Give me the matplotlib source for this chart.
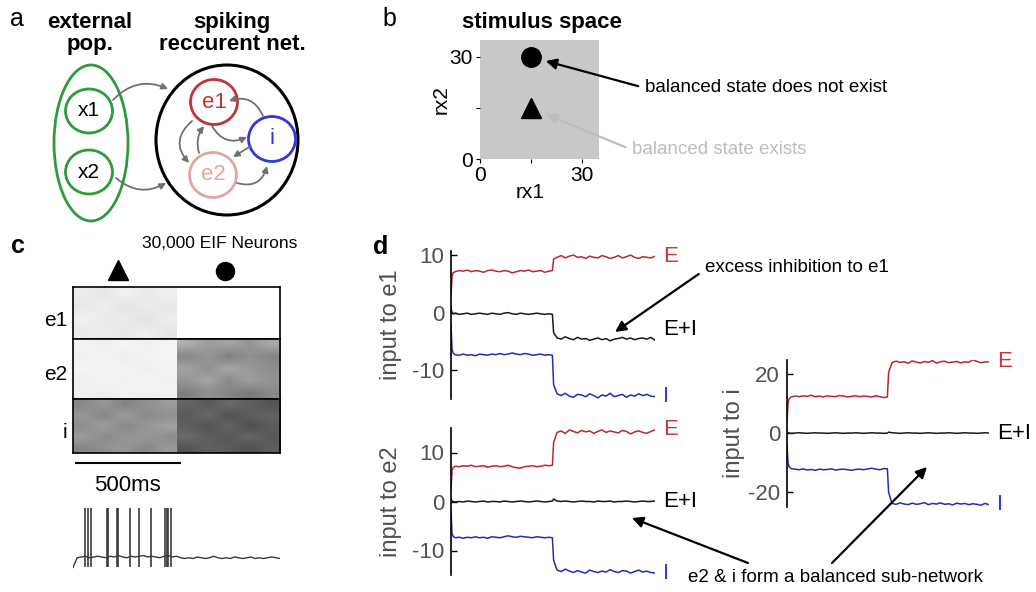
import numpy as np
import matplotlib
matplotlib.use('Agg')
import matplotlib.pyplot as plt
from matplotlib.patches import Ellipse, FancyArrowPatch
import matplotlib.transforms as mtransforms

plt.rcParams['font.family'] = 'Liberation Sans'
plt.rcParams['axes.unicode_minus'] = False

W, H = 1036, 592

# ---- data -------------------------------------------------------------
# time points (ms) of the synaptic input traces, stimulus switches at 500 ms
t_in = [0, 5, 10] + list(range(20, 481, 20)) + [497, 503] + list(range(520, 1001, 20))

e1_E = [3.0, 6.2, 6.9,
        7.1, 7.3, 7.2, 7.4, 7.1, 7.3, 7.2, 7.0, 7.3, 7.4, 7.2, 7.1,
        7.3, 7.2, 6.9, 7.1, 7.3, 7.2, 7.4, 7.1, 7.2, 7.3, 7.0, 7.2,
        7.3, 9.3,
        9.6, 9.9, 9.5, 9.8, 10.0, 9.6, 9.7, 9.4, 9.8, 9.6, 9.5, 9.9, 9.7,
        9.4, 9.6, 9.9, 9.5, 9.7, 10.0, 9.6, 9.4, 9.7, 9.6, 9.5, 9.8]
e1_EI = [0.8, 0.0, -0.2,
         -0.1, -0.3, -0.2, -0.1, -0.3, -0.2, -0.1, -0.2, -0.3, -0.1, -0.2, -0.3,
         -0.1, 0.0, -0.2, -0.3, -0.1, -0.2, -0.3, -0.2, -0.1, -0.2, -0.3, -0.2,
         -0.3, -3.5,
         -4.4, -4.6, -4.2, -4.5, -4.7, -4.3, -4.6, -4.5, -4.8, -4.6, -4.4, -4.7, -4.5,
         -4.9, -4.6, -4.5, -4.3, -4.6, -4.4, -4.7, -4.5, -4.4, -4.6, -4.3, -4.8]
e1_I = [-2.0, -6.3, -7.0,
        -7.3, -7.4, -7.2, -7.4, -7.3, -7.5, -7.2, -7.3, -7.4, -7.2, -7.3, -7.1,
        -7.3, -7.2, -7.0, -7.2, -7.3, -7.1, -7.2, -7.4, -7.3, -7.2, -7.4, -7.3,
        -7.4, -12.5,
        -14.1, -14.4, -14.0, -14.5, -14.7, -14.2, -14.3, -14.6, -14.1, -14.4, -14.8, -14.3, -14.5,
        -14.0, -14.6, -14.4, -14.2, -14.7, -14.3, -14.5, -14.1, -14.4, -14.2, -14.5, -14.6]

e2_E = [2.5, 6.3, 6.9,
        7.2, 7.1, 7.3, 7.2, 7.4, 7.1, 7.2, 7.3, 7.0, 7.2, 7.3, 7.1,
        7.2, 7.4, 7.1, 6.9, 6.8, 7.1, 7.2, 7.3, 7.1, 7.2, 7.4, 7.3,
        7.4, 12.0,
        14.1, 14.4, 13.9, 14.6, 14.3, 14.0, 14.5, 14.2, 14.4, 13.9, 14.3, 14.6, 14.1,
        14.4, 14.2, 14.0, 14.5, 14.3, 13.8, 14.2, 14.4, 14.1, 13.9, 14.3, 14.6]
e2_EI = [0.6, 0.1, 0.0,
         -0.1, 0.0, -0.1, 0.1, 0.0, -0.1, 0.0, 0.1, -0.1, 0.0, 0.0, -0.1,
         0.1, 0.0, -0.1, 0.0, 0.1, 0.0, -0.1, 0.0, 0.1, 0.0, -0.1, 0.0,
         0.1, 0.5,
         0.1, 0.0, 0.1, 0.0, -0.1, 0.0, 0.1, 0.0, 0.0, -0.1, 0.1, 0.0, 0.0,
         0.1, -0.1, 0.0, 0.0, 0.1, 0.0, -0.1, 0.0, 0.1, 0.0, 0.0, 0.1]
e2_I = [-2.0, -6.5, -7.1,
        -7.4, -7.3, -7.5, -7.3, -7.4, -7.2, -7.4, -7.3, -7.5, -7.2, -7.3, -7.4,
        -7.2, -7.0, -7.2, -7.3, -7.1, -7.2, -7.3, -7.4, -7.2, -7.3, -7.4, -7.3,
        -7.4, -12.0,
        -14.0, -14.3, -13.8, -14.2, -14.5, -14.1, -14.4, -14.6, -14.0, -14.3, -14.5, -14.2, -14.4,
        -13.9, -14.3, -14.5, -14.1, -14.2, -14.6, -14.3, -14.0, -14.4, -14.2, -14.5, -14.6]

i_E = [4.0, 10.0, 11.5,
       12.2, 12.5, 12.3, 12.6, 12.4, 12.8, 12.3, 12.5, 12.2, 12.6, 12.4, 12.3,
       12.7, 12.5, 12.2, 12.4, 12.6, 12.3, 12.5, 12.4, 12.2, 12.6, 12.3, 12.0,
       12.2, 20.5,
       23.8, 24.3, 23.9, 24.1, 23.6, 24.4, 24.0, 23.7, 24.2, 23.9, 24.5, 23.6, 24.1,
       24.3, 23.8, 24.0, 24.2, 23.7, 24.1, 23.9, 24.8, 24.2, 23.8, 24.0, 24.1]
i_EI = [0.4, 0.1, 0.0,
        -0.1, 0.0, 0.1, 0.0, -0.1, 0.0, 0.1, 0.0, 0.0, -0.1, 0.0, 0.1,
        0.0, -0.1, 0.0, 0.0, 0.1, 0.0, -0.1, 0.0, 0.1, 0.0, 0.0, -0.1,
        0.0, 0.3,
        0.1, 0.0, -0.1, 0.0, 0.1, 0.0, 0.0, -0.1, 0.0, 0.1, 0.0, -0.1, 0.0,
        0.0, 0.1, 0.0, -0.1, 0.0, 0.1, 0.0, 0.0, -0.1, 0.0, 0.1, 0.0]
i_I = [-4.0, -10.0, -11.3,
       -12.0, -12.2, -12.4, -12.1, -12.5, -12.3, -12.6, -12.2, -12.4, -12.3, -12.1, -12.5,
       -12.3, -12.2, -12.4, -12.6, -12.3, -12.2, -12.4, -12.1, -11.9, -12.2, -12.4, -12.0,
       -12.1, -20.0,
       -23.8, -24.1, -23.6, -24.0, -24.2, -23.7, -24.1, -23.9, -23.5, -24.2, -23.8, -24.0, -23.6,
       -24.1, -23.9, -24.3, -23.7, -24.0, -23.8, -24.2, -23.9, -24.1, -24.4, -23.8, -24.2]

# spike density of the raster (rows of neurons x 100 ms bins)
e1_rate = [[0.14, 0.18, 0.12, 0.16, 0.13, 0, 0, 0, 0, 0],
           [0.17, 0.13, 0.19, 0.15, 0.17, 0, 0, 0, 0, 0],
           [0.12, 0.16, 0.15, 0.20, 0.14, 0, 0, 0, 0, 0],
           [0.16, 0.14, 0.17, 0.13, 0.18, 0, 0, 0, 0, 0]]
e2_rate = [[0.10, 0.13, 0.09, 0.12, 0.10, 0.42, 0.48, 0.45, 0.50, 0.44],
           [0.12, 0.09, 0.14, 0.11, 0.08, 0.55, 0.50, 0.58, 0.52, 0.56],
           [0.09, 0.12, 0.10, 0.13, 0.11, 0.46, 0.52, 0.44, 0.49, 0.53],
           [0.13, 0.10, 0.12, 0.09, 0.12, 0.50, 0.45, 0.54, 0.47, 0.51],
           [0.11, 0.14, 0.10, 0.12, 0.10, 0.58, 0.52, 0.56, 0.60, 0.55]]
i_rate = [[0.55, 0.50, 0.57, 0.52, 0.48, 0.68, 0.72, 0.66, 0.70, 0.74],
          [0.50, 0.56, 0.48, 0.54, 0.52, 0.72, 0.66, 0.75, 0.70, 0.68],
          [0.53, 0.47, 0.55, 0.50, 0.46, 0.70, 0.74, 0.68, 0.76, 0.71],
          [0.48, 0.54, 0.51, 0.49, 0.53, 0.66, 0.70, 0.73, 0.67, 0.72],
          [0.56, 0.52, 0.50, 0.55, 0.49, 0.74, 0.69, 0.71, 0.75, 0.70]]

# membrane potential of one e1 neuron (mV), sampled every 20 ms
v_t = list(range(0, 1001, 20))
v_mem = [-70, -57, -56, -55, -57, -56, -55, -56, -57, -55, -56, -54, -56, -57, -55, -56,
         -55, -54, -56, -55, -56, -57, -55, -54, -56, -55,
         -57, -58, -57, -58, -56, -57, -58, -57, -55, -57, -58, -57, -58, -56, -57,
         -58, -57, -56, -58, -57, -58, -57, -56, -57, -58]
spike_t = [58, 74, 85, 162, 170, 211, 219, 275, 320, 375, 444, 452, 460, 472]
spike_reset = -69
spike_peak = 10
scale_bar_ms = 500

# stimulus space
rx1 = [15, 15]
rx2 = [15, 30]

red = '#b8282e'
red_lab = '#c8383e'
blue = '#2a2ab4'
blue_lab = '#3a3ad0'
txt_grey = '#505050'


def px_rect(x0, y0, x1, y1):
    return [x0 / W, 1 - y1 / H, (x1 - x0) / W, (y1 - y0) / H]


fig = plt.figure(figsize=(W / 100, H / 100), dpi=100)

# ---- b: stimulus space -----------------------------------------------
axb = fig.add_axes(px_rect(480, 40, 599, 159))
axb.set_facecolor('#c8c8c8')
axb.plot(rx1[0], rx2[0], '^', color='k', ms=15)
axb.plot(rx1[1], rx2[1], 'o', color='k', ms=14)
axb.set_xlim(0, 35)
axb.set_ylim(0, 35)
for s in axb.spines.values():
    s.set_visible(False)
axb.set_xticks([0, 15, 30])
axb.set_xticklabels(['0', '', '30'])
axb.set_yticks([0, 15, 30])
axb.set_yticklabels(['0', '', '30'])
axb.tick_params(length=3, width=0.8, labelsize=15, pad=2)
axb.set_xlabel('rx1', fontsize=15)
axb.xaxis.set_label_coords(0.42, -0.2)
axb.set_ylabel('rx2', fontsize=15)
axb.yaxis.set_label_coords(-0.25, 0.5)
axb.annotate('balanced state does not exist', xy=(rx1[1], rx2[1]), xycoords='data',
             xytext=(645, H - 88), textcoords='figure pixels', fontsize=13.5,
             ha='left', va='center', annotation_clip=False,
             arrowprops=dict(arrowstyle='-|>', color='k', lw=1.6, mutation_scale=16,
                             relpos=(0, 0.5), shrinkA=3, shrinkB=11))
axb.annotate('balanced state exists', xy=(rx1[0], rx2[0]), xycoords='data',
             xytext=(632, H - 150), textcoords='figure pixels', fontsize=13.5,
             color='#bdbdbd', ha='left', va='center', annotation_clip=False,
             arrowprops=dict(arrowstyle='-|>', color='#bdbdbd', lw=1.6, mutation_scale=16,
                             relpos=(0, 0.5), shrinkA=3, shrinkB=12))

# ---- c: raster + voltage ----------------------------------------------
raster_rows = [(e1_rate, 287, 339), (e2_rate, 339, 399), (i_rate, 399, 453)]
raster_axes = []
for rate, y0, y1 in raster_rows:
    ax = fig.add_axes(px_rect(73, y0, 280, y1))
    arr = np.array(rate)
    n = arr.shape[0]
    # each stimulus epoch smoothed on its own so the switch stays sharp
    ax.imshow(arr[:, :5], cmap='Greys', vmin=0, vmax=1, aspect='auto',
              interpolation='bilinear', extent=(0, 500, 0, n))
    ax.imshow(arr[:, 5:], cmap='Greys', vmin=0, vmax=1, aspect='auto',
              interpolation='bilinear', extent=(500, 1000, 0, n))
    ax.set_xlim(0, 1000)
    ax.set_ylim(0, n)
    ax.set_xticks([])
    ax.set_yticks([])
    for s in ax.spines.values():
        s.set_linewidth(1.2)
    raster_axes.append(ax)

ax_i = raster_axes[-1]
bar_tr = mtransforms.blended_transform_factory(ax_i.transData, ax_i.transAxes)
ax_i.plot([15, 15 + scale_bar_ms], [-0.19, -0.19], color='k', lw=1.5,
          transform=bar_tr, clip_on=False)
ax_i.text(15 + scale_bar_ms / 2, -0.6, '%dms' % scale_bar_ms, transform=bar_tr,
          ha='center', va='center', fontsize=16)

axv = fig.add_axes(px_rect(73, 500, 280, 575))
axv.plot(v_t, v_mem, color='#3a3a3a', lw=1.0)
axv.vlines(spike_t, spike_reset, spike_peak, color='#3a3a3a', lw=1.2)
axv.set_xlim(0, 1000)
axv.set_ylim(-80, 20)
axv.axis('off')


# ---- d: synaptic inputs -----------------------------------------------
def current_panel(rect, e, ei, i, ylim, ticks, ylabel, label_x, ei_label_y):
    ax = fig.add_axes(px_rect(*rect))
    ax.set_facecolor('none')
    ax.plot(t_in, e, color=red, lw=1.1)
    ax.plot(t_in, ei, color='#1a1a1a', lw=1.1)
    ax.plot(t_in, i, color=blue, lw=1.1)
    ax.set_xlim(0, 1000)
    ax.set_ylim(*ylim)
    for s in ['top', 'right', 'bottom']:
        ax.spines[s].set_visible(False)
    ax.spines['left'].set_linewidth(1.2)
    ax.set_xticks([])
    ax.set_yticks(ticks)
    ax.tick_params(axis='y', direction='in', length=4, width=1, labelsize=16,
                   labelcolor=txt_grey, pad=5)
    ax.set_ylabel(ylabel, fontsize=17, color=txt_grey)
    ax.yaxis.set_label_coords(label_x, 0.5)
    for yv, lab, col in [(e[-1], 'E', red_lab), (ei_label_y, 'E+I', 'k'), (i[-1], 'I', blue_lab)]:
        ax.text(1040, yv, lab, color=col, fontsize=16, ha='left', va='center', clip_on=False)
    return ax


current_panel((451, 251, 655, 399), e1_E, e1_EI, e1_I, (-15, 10.7), [-10, 0, 10],
              'input to e1', -0.24, -3.0)
current_panel((451, 428, 655, 575), e2_E, e2_EI, e2_I, (-15, 15), [-10, 0, 10],
              'input to e2', -0.24, 0.0)
current_panel((787, 360, 989, 507), i_E, i_EI, i_I, (-25, 24.7), [-20, 0, 20],
              'input to i', -0.21, 0.0)

# ---- overlay in pixel coordinates: schematic, labels, annotations ---------
bg = fig.add_axes([0, 0, 1, 1], zorder=10)
bg.set_xlim(0, W)
bg.set_ylim(H, 0)
bg.axis('off')
bg.patch.set_visible(False)

# panel letters
for x, y, s, wt in [(10, 26, 'a', 'normal'), (382, 26, 'b', 'normal'),
                    (11, 253, 'c', 'bold'), (373, 254, 'd', 'bold')]:
    bg.text(x, y, s, fontsize=18, fontweight=wt, va='baseline', ha='left')

# a: circuit schematic
bg.text(90, 28, 'external', fontsize=16, fontweight='bold', ha='center', va='baseline')
bg.text(90, 50, 'pop.', fontsize=16, fontweight='bold', ha='center', va='baseline')
bg.text(232, 28, 'spiking', fontsize=16, fontweight='bold', ha='center', va='baseline')
bg.text(232, 50, 'reccurent net.', fontsize=16, fontweight='bold', ha='center', va='baseline')

green = '#2f9a3c'
bg.add_patch(Ellipse((91, 143), 74, 156, fill=False, ec=green, lw=2))
for cy, lab in [(111, 'x1'), (172, 'x2')]:
    bg.add_patch(Ellipse((89, cy), 47, 44, fill=False, ec=green, lw=2))
    bg.text(89, cy, lab, fontsize=15, ha='center', va='center')

bg.add_patch(Ellipse((227, 140), 142, 150, fill=False, ec='k', lw=2.2))
nodes = [((214, 102), 'e1', '#c0333a'), ((272, 139), 'i', '#3535e0'),
         ((213, 175), 'e2', '#e2a5a5')]
for (cx, cy), lab, col in nodes:
    bg.add_patch(Ellipse((cx, cy), 47, 45, fill=False, ec=col, lw=2))
    bg.text(cx, cy, lab, fontsize=16, color=col, ha='center', va='center')

links = [((113, 100), (168, 89), -0.35), ((116, 178), (166, 183), 0.35),
         ((192, 121), (189, 163), 0.5), ((199, 153), (204, 126), -0.25),
         ((212, 126), (247, 137), 0.45), ((263, 116), (229, 101), 0.45),
         ((251, 146), (233, 157), 0.0), ((237, 183), (267, 166), 0.5)]
for a, b, rad in links:
    bg.add_patch(FancyArrowPatch(a, b, connectionstyle='arc3,rad=%.2f' % rad,
                                 arrowstyle='-|>', mutation_scale=9, lw=1.3,
                                 color='#707070', shrinkA=0, shrinkB=0))

# b title
bg.text(542, 28, 'stimulus space', fontsize=16, fontweight='bold', ha='center', va='baseline')

# c labels
bg.text(220, 243, '30,000 EIF Neurons', fontsize=12.5, ha='center', va='center')
bg.plot(118, 270, '^', color='k', ms=15)
bg.plot(225, 271, 'o', color='k', ms=13)
for y, lab in [(320, 'e1'), (375, 'e2'), (432, 'i')]:
    bg.text(67, y, lab, fontsize=15, ha='right', va='center')

# d annotations
bg.annotate('excess inhibition to e1', xy=(615, 332), xytext=(705, 268), fontsize=13.5,
            ha='left', va='center',
            arrowprops=dict(arrowstyle='-|>', color='k', lw=1.6, mutation_scale=16,
                            relpos=(0, 0.4), shrinkA=3, shrinkB=0))
bg.text(836, 578, 'e2 & i form a balanced sub-network', fontsize=13.5, ha='center', va='center')
for tail, tip in [((748, 563), (632, 518)), ((832, 563), (927, 467))]:
    bg.annotate('', xy=tip, xytext=tail,
                arrowprops=dict(arrowstyle='-|>', color='k', lw=1.6, mutation_scale=16,
                                shrinkA=0, shrinkB=0))

fig.savefig('out.png', dpi=100)
